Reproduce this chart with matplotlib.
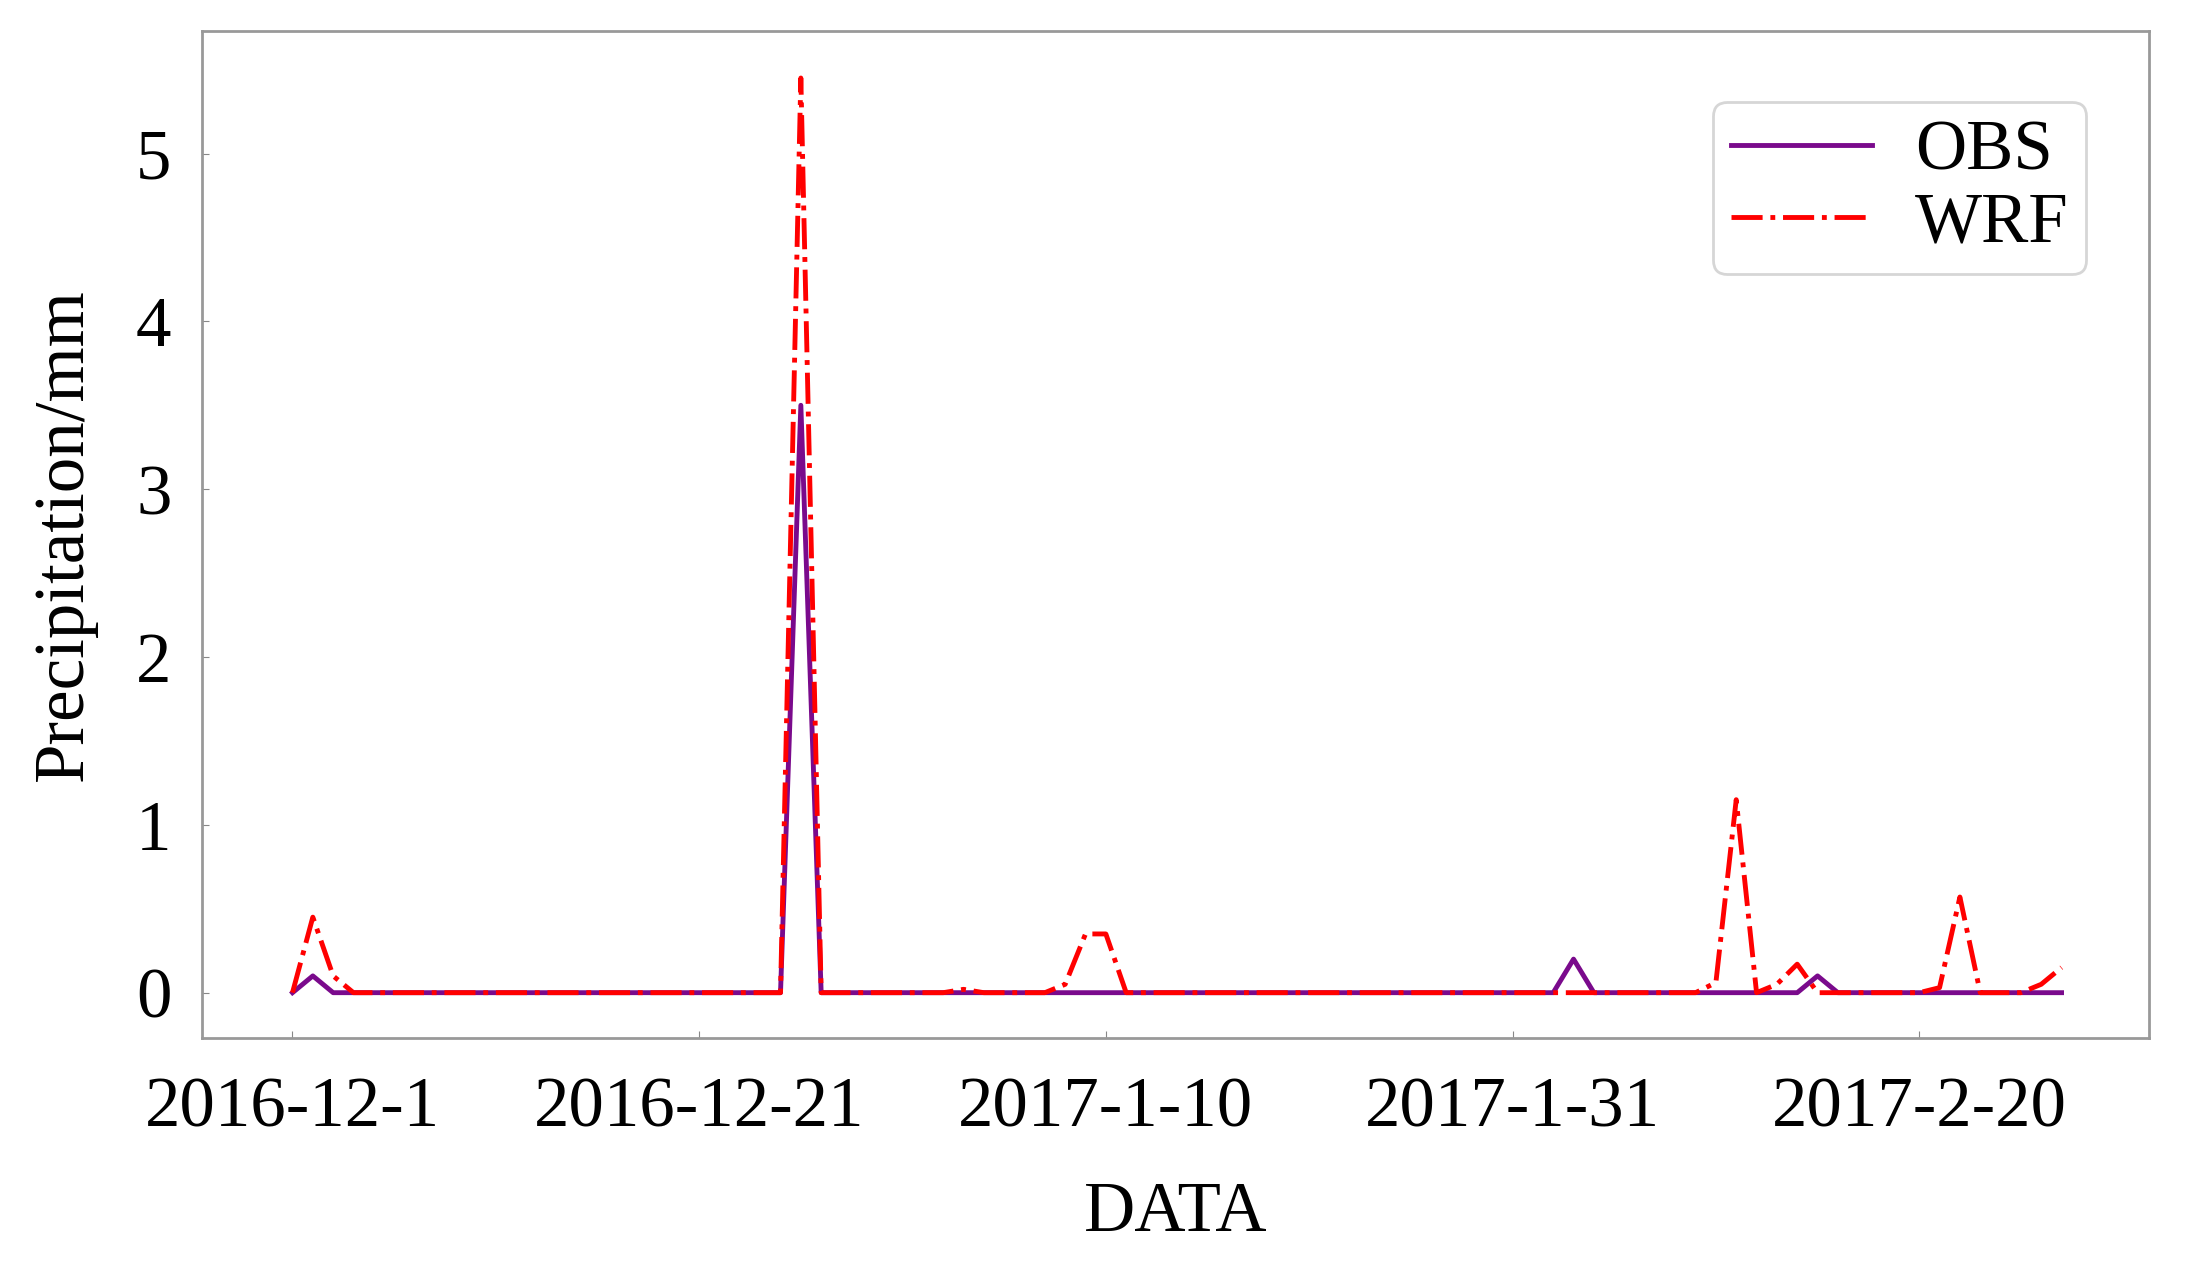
import matplotlib
matplotlib.use("Agg")
import matplotlib.pyplot as plt
import numpy as np

n_days = 88
obs_events = {1: 0.1, 25: 3.5, 63: 0.2, 75: 0.1}
wrf_events = {1: 0.45, 2: 0.1, 25: 5.45, 33: 0.02, 38: 0.05, 39: 0.35, 40: 0.35,
              70: 0.06, 71: 1.15, 73: 0.05, 74: 0.17, 81: 0.03, 82: 0.57, 86: 0.05, 87: 0.15}
obs = [obs_events.get(i, 0.0) for i in range(n_days)]
wrf = [wrf_events.get(i, 0.0) for i in range(n_days)]
tick_pos = [0, 20, 40, 60, 80]
tick_labels = ["2016-12-1", "2016-12-21", "2017-1-10", "2017-1-31", "2017-2-20"]

plt.rcParams['font.family'] = ['Liberation Serif', 'DejaVu Serif']
fig = plt.figure(figsize=(21.9, 12.87), dpi=100)
ax = fig.add_axes([202/2190, 1-1038/1287, (2149-202)/2190, (1038-31)/1287])
x = np.arange(n_days)
ax.plot(x, obs, color='#7a0a8c', lw=3.5, label='OBS')
ax.plot(x, wrf, color='#ff0000', lw=3.5, ls='-.', label='WRF')
ax.set_xlim(-4.45, 91.3)
ax.set_ylim(-0.27, 5.73)
ax.set_xticks(tick_pos)
ax.set_xticklabels(tick_labels)
ax.set_yticks([0, 1, 2, 3, 4, 5])
ax.tick_params(labelsize=51, direction='in', length=5, color='#888888')
ax.tick_params(axis='x', pad=28)
ax.tick_params(axis='y', pad=22)
for s in ax.spines.values():
    s.set_color('#999999')
    s.set_linewidth(2)
ax.set_xlabel('DATA', fontsize=51, labelpad=28)
ax.set_ylabel('Precipitation/mm', fontsize=51, labelpad=28)
leg = ax.legend(loc='upper right', fontsize=51, handlelength=2.0, borderpad=0.25,
                labelspacing=0.1, handletextpad=0.6, bbox_to_anchor=(0.986, 0.965), fancybox=True)
leg.get_frame().set_edgecolor('#cccccc')
leg.get_frame().set_linewidth(2)
fig.savefig('out.png', dpi=100)
